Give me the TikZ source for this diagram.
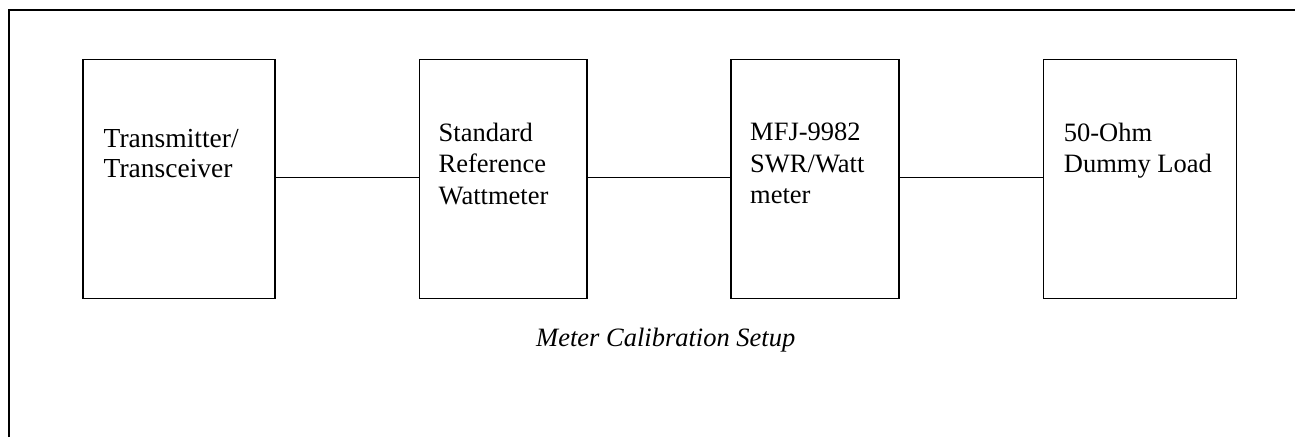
\documentclass[tikz,border=0pt]{standalone}
\usepackage{fontspec}
\setmainfont{Liberation Serif}
\begin{document}
\begin{tikzpicture}[x=1pt,y=-1pt,
  devbox/.style={draw,line width=1.7pt,inner sep=0pt,anchor=north west},
  devtext/.style={anchor=base west,align=left,inner sep=0pt,font=\fontsize{26.5}{31.5}\selectfont},
  wire/.style={line width=1.2pt},
  frame/.style={line width=1.9pt}]
\useasboundingbox (0,0) rectangle (1295,437);
\draw[frame] (9,437) -- (9,10) -- (1295,10);
% boxes
\node[devbox,minimum width=192pt,minimum height=239pt] (tx) at (82,58.5) {};
\node[devbox,minimum width=167.5pt,minimum height=239pt] (ref) at (418.5,58.5) {};
\node[devbox,minimum width=168pt,minimum height=239pt] (mfj) at (730,58.5) {};
\node[devbox,minimum width=193pt,minimum height=239pt] (load) at (1042.5,58.5) {};
% texts (anchored at the baseline of the last line)
\node[devtext,font=\fontsize{27.5}{30}\selectfont] (txt1) at (103.5,177.3) {Transmitter/\\Transceiver};
\node[devtext] (txt2) at (438.5,204) {Standard\\Reference\\Wattmeter};
\node[devtext] (txt3) at (750,203.5) {MFJ-9982\\SWR/Watt\\meter};
\node[devtext] (txt4) at (1063.7,172.5) {50-Ohm\\Dummy Load};
% connectors
\draw[wire] (tx.east |- 0,177.7) -- (ref.west |- 0,177.7);
\draw[wire] (ref.east |- 0,177.7) -- (mfj.west |- 0,177.7);
\draw[wire] (mfj.east |- 0,177.7) -- (load.west |- 0,177.7);
% caption
\node[anchor=base west,inner sep=0pt,font=\fontsize{26.5}{31}\selectfont\itshape] (cap) at (536,346) {Meter Calibration Setup};
\end{tikzpicture}
\end{document}
